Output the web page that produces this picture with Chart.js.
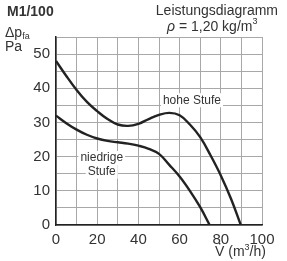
<!DOCTYPE html>
<html lang="en">
<head>
<meta charset="UTF-8">
<title>M1/100 Leistungsdiagramm</title>
<script src="https://cdn.jsdelivr.net/npm/chart.js"></script>
<style>
  html, body { margin: 0; padding: 0; background: #fff; }
  #wrap { width: 287px; height: 261px; }
</style>
</head>
<body>
<div id="wrap"><canvas id="chart" width="287" height="261"></canvas></div>
<script>
// volume flow V (m3/h) and pressure (Pa)
const hoheX = [0, 5, 10, 15, 20, 25, 30, 35, 40, 45, 50, 55, 60, 65, 70, 75, 80, 85, 89.7];
const hoheY = [48, 43.6, 39.5, 36, 33.3, 31, 29.4, 29, 29.6, 31, 32.2, 32.8, 32.1, 29.4, 25.7, 20.4, 14.5, 7.6, 0];
const niedX = [0, 5, 10, 15, 20, 25, 30, 35, 40, 45, 50, 55, 60, 65, 70, 74.6];
const niedY = [32, 29.8, 27.9, 26.4, 25.3, 24.6, 24.2, 23.8, 23.2, 22.3, 20.8, 17.6, 14.2, 10, 5.2, 0];
const xTickLabels = [0, 20, 40, 60, 80, 100];
const yTickLabels = [0, 10, 20, 30, 40, 50];

const txt = '#333';
const FONT = '"Liberation Sans", Arial, sans-serif';

function pts(xs, ys) { return xs.map((x, i) => ({ x: x, y: ys[i] })); }

const textPlugin = {
  id: 'texts',
  afterDraw(chart) {
    const ctx = chart.ctx;
    const sx = chart.scales.x, sy = chart.scales.y;
    ctx.save();
    ctx.fillStyle = txt;
    ctx.textBaseline = 'middle';

    // curve labels with white background
    function label(str, dx, dy) {
      ctx.font = '12px ' + FONT;
      const px = sx.getPixelForValue(dx), py = sy.getPixelForValue(dy);
      const w = ctx.measureText(str).width;
      ctx.fillStyle = '#fff';
      ctx.fillRect(px - w / 2 - 2, py - 7, w + 4, 14);
      ctx.fillStyle = txt;
      ctx.textAlign = 'center';
      ctx.fillText(str, px, py);
    }
    label('hohe Stufe', 66, 36.5);
    label('niedrige', 22.2, 19.6);
    label('Stufe', 22.2, 15.6);

    // headings
    ctx.textAlign = 'left';
    ctx.font = 'bold 14px ' + FONT;
    ctx.fillText('M1/100', 7, 12);
    ctx.font = '14px ' + FONT;
    ctx.textAlign = 'right';
    ctx.fillText('Leistungsdiagramm', 278, 11);
    ctx.textAlign = 'left';
    let x = 167;
    ctx.font = 'italic 14px ' + FONT;
    ctx.fillText('\u03C1', x, 27);
    x += ctx.measureText('\u03C1').width;
    ctx.font = '14px ' + FONT;
    ctx.fillText(' = 1,20 kg/m', x, 27);
    x += ctx.measureText(' = 1,20 kg/m').width;
    ctx.font = '9px ' + FONT;
    ctx.fillText('3', x, 22);

    // y axis unit
    ctx.font = '14px ' + FONT;
    ctx.fillText('\u0394p', 5, 33);
    let w = ctx.measureText('\u0394p').width;
    ctx.font = '9px ' + FONT;
    ctx.fillText('fa', 5 + w, 37);
    ctx.font = '14px ' + FONT;
    ctx.fillText('Pa', 5, 47);

    // x axis unit
    x = 215;
    ctx.fillText('V', x, 252);
    const vw = ctx.measureText('V').width;
    ctx.fillRect(x + vw / 2 - 0.7, 243, 1.4, 1.4);
    x += vw;
    ctx.fillText(' (m', x, 252);
    x += ctx.measureText(' (m').width;
    ctx.font = '9px ' + FONT;
    ctx.fillText('3', x, 248);
    x += ctx.measureText('3').width;
    ctx.font = '14px ' + FONT;
    ctx.fillText('/h)', x, 252);
    ctx.restore();
  }
};

new Chart(document.getElementById('chart'), {
  type: 'line',
  data: {
    datasets: [
      { label: 'hohe Stufe', data: pts(hoheX, hoheY), borderColor: '#222', borderWidth: 2.4,
        pointRadius: 0, tension: 0.4, fill: false },
      { label: 'niedrige Stufe', data: pts(niedX, niedY), borderColor: '#222', borderWidth: 2.4,
        pointRadius: 0, tension: 0.4, fill: false }
    ]
  },
  options: {
    responsive: false,
    animation: false,
    layout: { padding: { left: 0, right: 25, top: 37, bottom: 0 } },
    plugins: { legend: { display: false }, tooltip: { enabled: false } },
    scales: {
      x: {
        type: 'linear', min: 0, max: 100,
        afterFit(scale) { scale.height = 36; },
        border: { color: '#222', width: 1.5 },
        grid: { color: '#a8a8a8', lineWidth: 1, drawTicks: false },
        ticks: {
          stepSize: 10, padding: 6, color: txt, font: { family: FONT, size: 15 },
          maxRotation: 0, autoSkip: false,
          callback: v => xTickLabels.includes(v) ? String(v) : ''
        }
      },
      y: {
        min: 0, max: 55,
        afterFit(scale) { scale.width = 56; },
        border: { color: '#222', width: 1.5 },
        grid: { color: '#a8a8a8', lineWidth: 1, drawTicks: false },
        ticks: {
          stepSize: 5, padding: 6, color: txt, font: { family: FONT, size: 15 },
          autoSkip: false,
          callback: v => yTickLabels.includes(v) ? String(v) : ''
        }
      }
    }
  },
  plugins: [textPlugin]
});
</script>
</body>
</html>
